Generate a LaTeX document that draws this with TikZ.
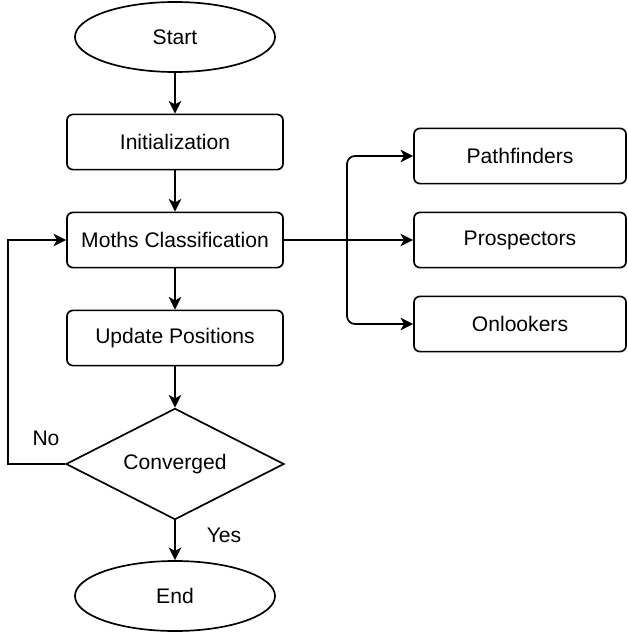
\documentclass[tikz,border=0pt]{standalone}
\usepackage{fontspec}
\setmainfont{Liberation Sans}
\usetikzlibrary{shapes.geometric,arrows.meta}

\tikzset{
  box/.style={draw,line width=1.2pt,rounded corners=0.15cm,minimum width=5.4cm,minimum height=1.38cm,inner sep=0pt},
  sidebox/.style={box,minimum width=5.3cm},
  term/.style={draw,line width=1.2pt,ellipse,minimum width=5cm,minimum height=1.75cm,inner sep=0pt},
  decide/.style={draw,line width=1.2pt,diamond,aspect=1.96,minimum width=5.45cm,minimum height=2.78cm,inner sep=0pt},
  arrow/.style={line width=1.2pt,-{Stealth[length=9pt,width=9pt,inset=2.5pt]}}
}

\begin{document}
\begin{tikzpicture}[x=0.025cm,y=-0.025cm,font=\fontsize{15}{18}\selectfont]
\useasboundingbox (0,0) rectangle (628,637);

\node (start) at (175,37)[term]{Start};
\node (init) at (175,142)[box]{Initialization};
\node (moths) at (175,240)[box]{Moths Classification};
\node (update) at (175,338)[box]{Update Positions};
\node (conv) at (175,464)[decide]{Converged};
\node (end) at (175,596)[term]{End};

\node (path) at (520,156)[sidebox]{Pathfinders};
\node (prosp) at (520,240)[sidebox]{Prospectors};
\node (onl) at (520,324)[sidebox]{Onlookers};

\draw[arrow] (start) -- (init);
\draw[arrow] (init) -- (moths);
\draw[arrow] (moths) -- (update);
\draw[arrow] (update) -- (conv);
\draw[arrow] (conv) -- (end);

\coordinate (split) at (347,240);
\draw[arrow] (moths.east) -- (prosp.west);
\draw[arrow,rounded corners=0.2cm] (split) |- (path.west);
\draw[arrow,rounded corners=0.2cm] (split) |- (onl.west);

\coordinate (back) at (8,464);
\draw[arrow] (conv.west) -- (back) |- (moths.west);

\node (no) at (46,438){No};
\node (yes) at (224,535){Yes};

\end{tikzpicture}
\end{document}
